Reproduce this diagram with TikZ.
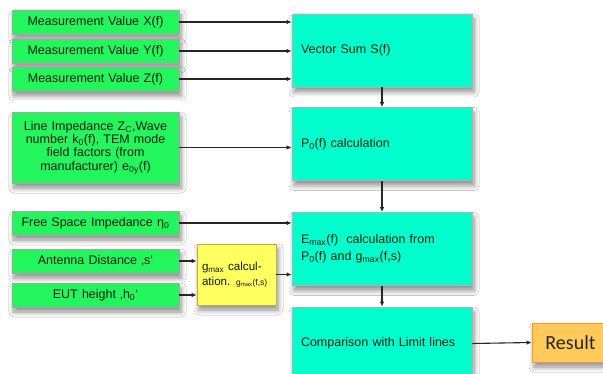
\documentclass[tikz,border=0pt]{standalone}
\usepackage{fontspec}
\setmainfont{Liberation Sans}
\newfontfamily\resultfont{Carlito}
\usetikzlibrary{arrows.meta,shadows.blur}

\definecolor{inbox}{RGB}{34,246,92}
\definecolor{procbox}{RGB}{0,255,204}
\definecolor{calcbox}{RGB}{255,255,96}
\definecolor{resbox}{RGB}{255,202,90}
\definecolor{inktext}{RGB}{16,30,20}

\tikzset{
  softshadow/.style={blur shadow={shadow xshift=2pt,shadow yshift=-5pt,
      shadow blur steps=8,shadow blur radius=5pt,shadow opacity=45}},
  inputbox/.style={draw=black!35,line width=0.8pt,fill=inbox,softshadow,
      minimum width=167pt,text width=155pt,align=center,inner sep=3pt,
      font=\fontsize{12.5}{13.4}\selectfont,text=inktext},
  procstep/.style={draw=black!30,line width=0.8pt,fill=procbox,softshadow,
      minimum width=178pt,minimum height=73pt,text width=162pt,align=left,
      inner xsep=9pt,font=\fontsize{12.5}{16.5}\selectfont,text=inktext},
  calcstep/.style={draw=black!30!yellow!70!brown,line width=0.8pt,fill=calcbox,
      softshadow,minimum width=79pt,minimum height=61pt,text width=69pt,
      align=left,inner xsep=5pt,font=\fontsize{11.6}{15}\selectfont,text=inktext},
  resultbox/.style={draw=orange!70!brown!80,line width=0.8pt,fill=resbox,
      softshadow,minimum width=77pt,minimum height=39pt,
      font=\resultfont\fontsize{20}{22}\selectfont,text=black!85},
  flow/.style={line width=1.1pt,draw=black!85,
      -{Latex[length=5pt,width=4.5pt]}}
}

\begin{document}
\begin{tikzpicture}[x=1pt,y=-1pt]
  \useasboundingbox (0,0) rectangle (603,374);
  \fill[white] (0,0) rectangle (603,374);
  \begin{scope}
  \clip (0,0) rectangle (603,374);

  % input quantities
  \node[inputbox,minimum height=24pt] (mx) at (95.5,22) {Measurement Value X(f)};
  \node[inputbox,minimum height=24pt] (my) at (95.5,51) {Measurement Value Y(f)};
  \node[inputbox,minimum height=24pt] (mz) at (95.5,79) {Measurement Value Z(f)};
  \node[inputbox,minimum height=71pt] (li) at (95.5,147.5)
    {Line Impedance Z\textsubscript{C},Wave\\ number k\textsubscript{0}(f), TEM mode\\
     field factors (from\\ manufacturer) e\textsubscript{0y}(f)};
  \node[inputbox,minimum height=24pt] (fs) at (95.5,223) {Free Space Impedance η\textsubscript{0}};
  \node[inputbox,minimum height=24pt] (ad) at (95.5,261) {Antenna Distance ‚s‘};
  \node[inputbox,minimum height=24pt] (eh) at (95.5,295) {EUT height ‚h\textsubscript{0}‘};

  % g_max calculation
  \node[calcstep] (gm) at (236.5,274.5)
    {g\textsubscript{max} calcul-\\ation. {\fontsize{8.5}{9}\selectfont g\textsubscript{max}(f,s)}};

  % processing chain
  \node[procstep] (vs) at (382,50.5) {Vector Sum S(f)};
  \node[procstep] (p0) at (382,144) {P\textsubscript{0}(f) calculation};
  \node[procstep] (em) at (382,249)
    {E\textsubscript{max}(f)\ \ calculation from\\ P\textsubscript{0}(f) and g\textsubscript{max}(f,s)};
  \node[procstep] (cl) at (382,343.5) {Comparison with Limit lines};
  \node[resultbox] (rs) at (570.5,342.5) {Result};

  % connectors
  \draw[flow] (mx.east) -- (vs.west |- mx.east);
  \draw[flow] (my.east) -- (vs.west |- my.east);
  \draw[flow] (mz.east) -- (vs.west |- mz.east);
  \draw[flow] (li.east) -- (p0.west |- li.east);
  \draw[flow] (fs.east) -- (em.west |- fs.east);
  \draw[flow] (ad.east) -- (gm.west |- ad.east);
  \draw[flow] (eh.east) -- (gm.west |- eh.east);
  \draw[flow] (gm.east) -- (em.west |- gm.east);
  \draw[flow] (vs.south) -- (p0.north);
  \draw[flow] (p0.south) -- (em.north);
  \draw[flow] (em.south) -- (cl.north);
  \draw[flow] (cl.east) -- (rs.west);
  \end{scope}
\end{tikzpicture}
\end{document}
